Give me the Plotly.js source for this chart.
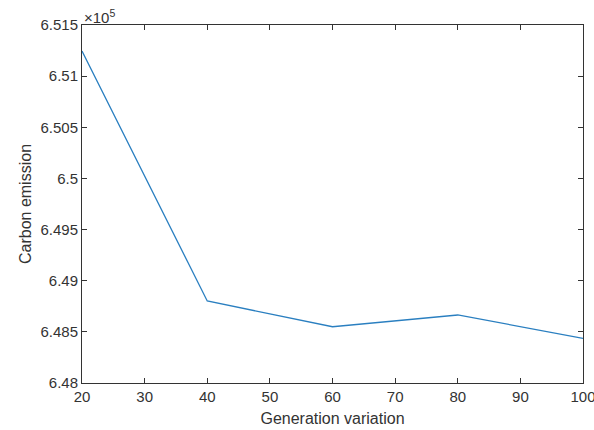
<!DOCTYPE html>
<html>
<head>
<meta charset="utf-8">
<script src="https://cdn.plot.ly/plotly-3.0.1.min.js"></script>
<style>
  html, body { margin: 0; padding: 0; background: #ffffff; }
  #chart { width: 594px; height: 430px; }
</style>
</head>
<body>
<div id="chart"></div>
<script>
// Generation variation vs. total carbon emission
const generationVariation = [20, 40, 60, 80, 100];
const carbonEmission = [651246, 648802, 648550, 648665, 648437];
const yScale = 1e5;
const yTickVals = [6.48, 6.485, 6.49, 6.495, 6.5, 6.505, 6.51, 6.515];
const yTickText = ['6.48', '6.485', '6.49', '6.495', '6.5', '6.505', '6.51', '6.515'];
const xTickVals = [20, 30, 40, 50, 60, 70, 80, 90, 100];

const axisColor = '#333333';
const family = 'Liberation Sans, Arial, sans-serif';
const tickFont = { family: family, size: 15, color: axisColor };
const titleFont = { family: family, size: 16, color: axisColor };

const trace = {
  x: generationVariation,
  y: carbonEmission.map(v => v / yScale),
  type: 'scatter',
  mode: 'lines',
  line: { color: '#2a7fc0', width: 1.3 },
  hoverinfo: 'skip'
};

const layout = {
  width: 594,
  height: 430,
  margin: { l: 82, r: 11, t: 25, b: 47 },
  paper_bgcolor: '#ffffff',
  plot_bgcolor: '#ffffff',
  font: tickFont,
  showlegend: false,
  xaxis: {
    range: [20, 100],
    tickvals: xTickVals,
    ticks: 'inside',
    ticklen: 5,
    tickcolor: axisColor,
    showline: true,
    linecolor: axisColor,
    linewidth: 1,
    mirror: 'ticks',
    showgrid: false,
    zeroline: false,
    tickfont: tickFont,
    ticklabeloverflow: 'allow',
    title: { text: 'Generation variation', font: titleFont, standoff: 8 }
  },
  yaxis: {
    range: [6.48, 6.515],
    tickvals: yTickVals,
    ticktext: yTickText,
    ticks: 'inside',
    ticklen: 5,
    tickcolor: axisColor,
    showline: true,
    linecolor: axisColor,
    linewidth: 1,
    mirror: 'ticks',
    showgrid: false,
    zeroline: false,
    tickfont: tickFont,
    ticklabeloverflow: 'allow',
    title: { text: 'Carbon emission', font: titleFont, standoff: 4 }
  },
  annotations: [{
    text: '\u00d710<sup>5</sup>',
    xref: 'paper', yref: 'paper',
    x: 0, y: 1,
    xanchor: 'left', yanchor: 'bottom',
    yshift: -3,
    showarrow: false,
    font: { family: family, size: 15, color: axisColor }
  }]
};

Plotly.newPlot('chart', [trace], layout, { staticPlot: true, displayModeBar: false });
</script>
</body>
</html>
